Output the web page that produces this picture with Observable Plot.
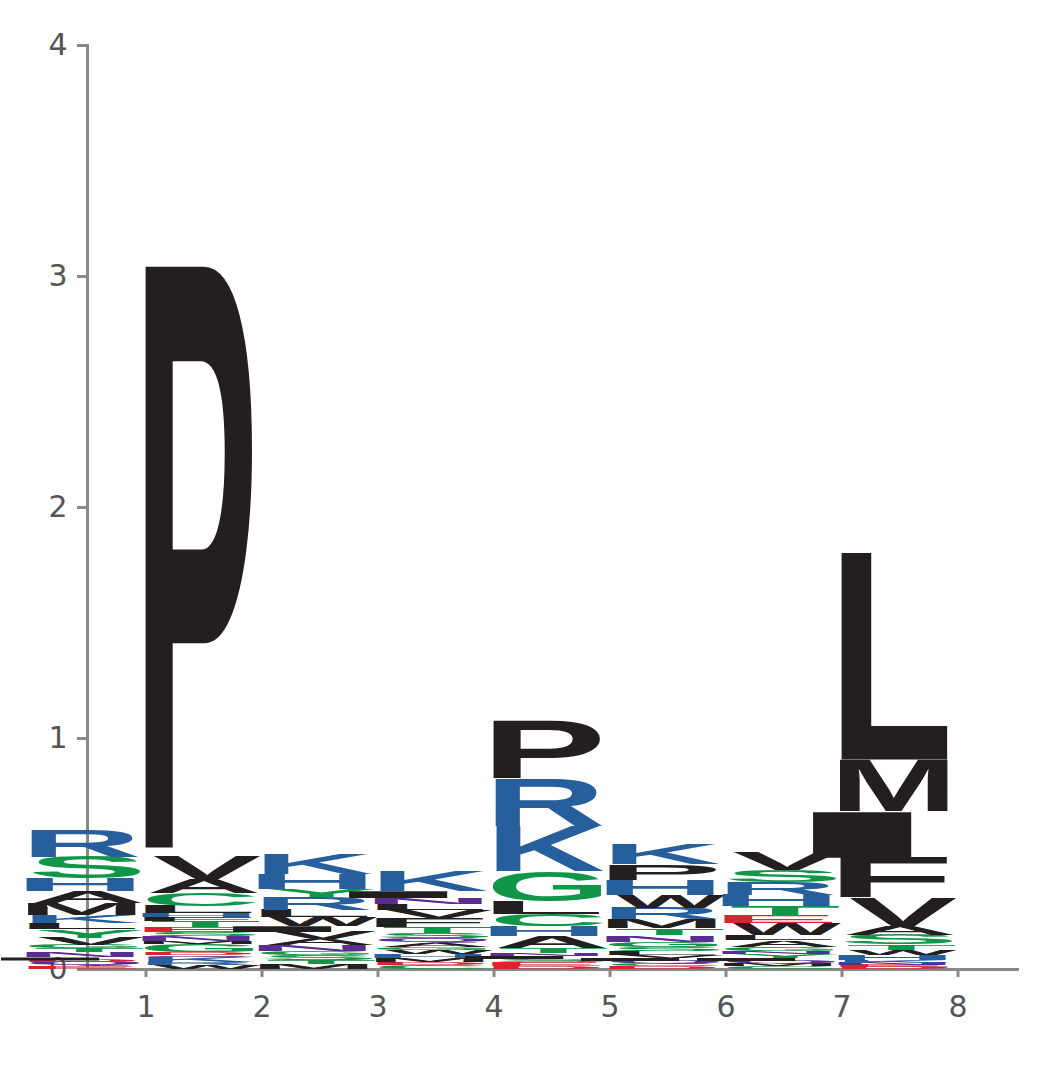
<!DOCTYPE html>
<html><head><meta charset="utf-8">
<script src="https://cdn.jsdelivr.net/npm/d3@7"></script>
<script src="https://cdn.jsdelivr.net/npm/@observablehq/plot@0.6"></script>
<style>
body{margin:0;background:#fff}
svg [aria-label$="tick"] path{stroke-width:3;stroke:#888}
svg [aria-label$="axis"] path{stroke-width:3;stroke:#888}
</style></head><body><div id="chart"></div>
<script>
// letters per position, listed bottom to top, with their heights (bits)
const positions = [1, 2, 3, 4, 5, 6, 7, 8];
const letters1 = ["E","Q","D","I","N","T","G","V","Y","L","K","M","A","H","S","R"];
const heights1 = [.012,.017,.008,.013,.022,.017,.017,.03,.035,.026,.035,.052,.052,.056,.095,.113];
const letters2 = ["W","R","K","Q","D","G","M","N","S","E","T","F","H","L","C","A","V","P"];
const heights2 = [.017,.013,.022,.009,.013,.035,.013,.022,.017,.022,.026,.017,.017,.03,.056,.06,.1,2.558];
const letters3 = ["M","T","S","G","N","A","V","I","W","L","R","Y","H","K"];
const heights3 = [.022,.017,.022,.017,.026,.026,.03,.026,.039,.03,.056,.035,.065,.087];
const letters4 = ["C","D","M","H","W","G","A","Q","S","T","F","V","L","N","I","K"];
const heights4 = [.017,.013,.017,.017,.017,.013,.017,.022,.022,.026,.039,.035,.026,.026,.03,.091];
const letters5 = ["D","E","S","I","N","T","A","H","C","L","G","K","R","P"];
const heights5 = [.013,.017,.013,.013,.013,.022,.052,.043,.052,.056,.13,.195,.203,.251];
const letters6 = ["D","C","Q","I","V","L","S","G","N","T","M","R","W","H","P","K"];
const heights6 = [.013,.009,.013,.013,.013,.017,.017,.022,.03,.03,.039,.048,.056,.065,.069,.087];
const letters7 = ["C","M","Q","I","Y","N","G","A","L","W","E","T","H","R","S","V"];
const heights7 = [.013,.009,.013,.013,.017,.013,.017,.03,.022,.052,.03,.043,.048,.056,.052,.078];
const letters8 = ["D","E","N","K","H","W","T","S","A","V","F","I","M","L"];
const heights8 = [.009,.009,.009,.013,.022,.022,.022,.043,.039,.121,.173,.2,.225,.896];
const yTicks = [0, 1, 2, 3, 4];

const allLetters = [letters1,letters2,letters3,letters4,letters5,letters6,letters7,letters8];
const allHeights = [heights1,heights2,heights3,heights4,heights5,heights6,heights7,heights8];

const colorOf = {
  K:"#265f9c", R:"#265f9c", H:"#265f9c",
  S:"#0f9648", T:"#0f9648", Y:"#0f9648", C:"#0f9648", G:"#0f9648",
  N:"#5b2c91", Q:"#5b2c91",
  D:"#d7262f", E:"#d7262f"
};
const color = l => colorOf[l] || "#231f20";

const data = [];
positions.forEach((p, i) => {
  let base = 0;
  allLetters[i].forEach((l, j) => {
    const h = allHeights[i][j];
    data.push({pos: p, letter: l, y1: base, y2: base + h});
    base += h;
  });
});

const chart = Plot.plot({
  width: 1045,
  height: 1071,
  marginLeft: 87,
  marginRight: 28,
  marginTop: 45,
  marginBottom: 102,
  style: {background: "#fff", color: "#555", fontFamily: "DejaVu Sans", fontSize: 30},
  x: {domain: positions, paddingInner: 0.06, paddingOuter: 0.02, label: null, tickSize: 8, tickPadding: 18, line: true},
  y: {domain: [0, 4], ticks: yTicks, tickFormat: d3.format("d"), label: null, tickSize: 10, tickPadding: 10, line: true},
  marks: [
    Plot.rect(data, {x: "pos", y1: "y1", y2: "y2", fill: "none"})
  ]
});
document.getElementById("chart").append(chart);

// fill each rectangle with its letter, stretched to the glyph's ink box
const ctx = document.createElement("canvas").getContext("2d");
ctx.font = "bold 100px 'Liberation Sans', Arial, sans-serif";
const ns = "http://www.w3.org/2000/svg";
const g = [...chart.querySelectorAll("g")].find(e => e.querySelectorAll(":scope > rect").length === data.length);
const rects = g.querySelectorAll(":scope > rect");
rects.forEach((r, i) => {
  const d = data[i];
  const x = +r.getAttribute("x"), y = +r.getAttribute("y");
  const w = +r.getAttribute("width"), h = +r.getAttribute("height");
  const m = ctx.measureText(d.letter);
  const L = m.actualBoundingBoxLeft, R = m.actualBoundingBoxRight;
  const A = m.actualBoundingBoxAscent, D = m.actualBoundingBoxDescent;
  const t = document.createElementNS(ns, "text");
  t.textContent = d.letter;
  t.setAttribute("font-family", "'Liberation Sans', Arial, sans-serif");
  t.setAttribute("font-weight", "bold");
  t.setAttribute("font-size", 100);
  t.setAttribute("fill", color(d.letter));
  t.setAttribute("transform",
    `translate(${x},${y}) scale(${w / (L + R)},${h / (A + D)}) translate(${L},${A})`);
  g.appendChild(t);
});
// thicken the axis lines
chart.querySelectorAll("path, line").forEach(e => {
  if (!g.contains(e)) { e.setAttribute("stroke", "#888"); e.setAttribute("stroke-width", 3); }
});
</script></body></html>
